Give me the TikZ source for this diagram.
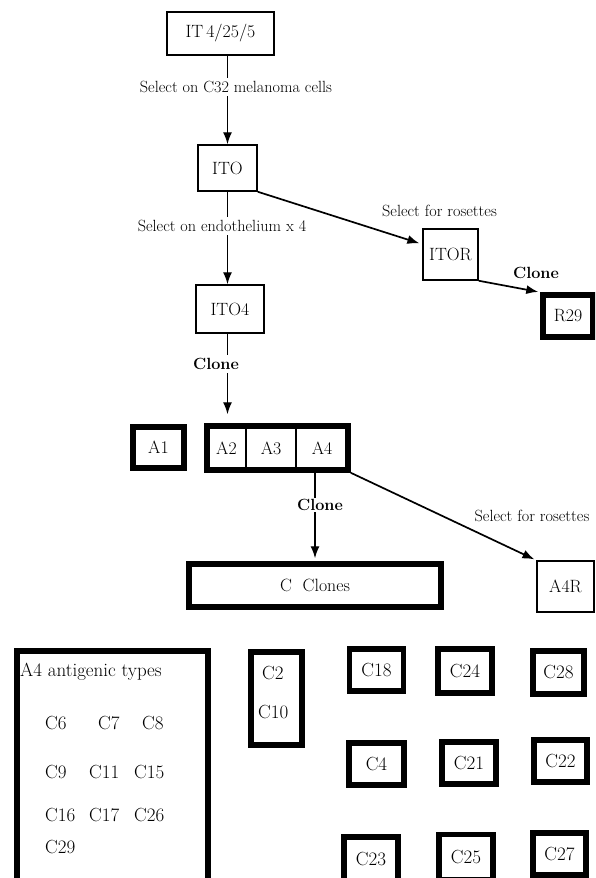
\documentclass[tikz,border=0pt]{standalone}
\usepackage{fontspec}
\usetikzlibrary{arrows.meta}
\newcommand{\lblsize}{\fontsize{16.2}{19}\selectfont}
\newcommand{\boxsize}{\fontsize{17.8}{21}\selectfont}
\newcommand{\csize}{\fontsize{19}{22}\selectfont}
\tikzset{
  thinbox/.style={draw, line width=1.5pt, inner sep=0pt, font=\boxsize},
  thickbox/.style={draw, line width=5.5pt, inner sep=0pt, font=\boxsize},
  cbox/.style={thickbox, minimum width=54pt, minimum height=43pt, font=\csize},
  lbl/.style={fill=white, inner sep=3pt, font=\lblsize},
  arr/.style={-{Latex[length=12pt,width=9pt]}, line width=1.4pt},
  ctype/.style={anchor=west, inner sep=0pt, font=\csize},
}
\begin{document}
\begin{tikzpicture}[x=1pt, y=-1pt]
    \useasboundingbox (0,0) rectangle (595,878);
    \clip (0,0) rectangle (595,878);

    % Parent line and first selections
    \node[thinbox, minimum width=107pt, minimum height=43pt] (IT) at (220.5,33.5) {IT\,4/25/5};
    \node[thinbox, minimum width=59pt, minimum height=46pt] (ITO) at (227.5,168) {ITO};
    \node[thinbox, minimum width=68pt, minimum height=48pt] (ITO4) at (230,309) {ITO4};
    \node[thinbox, minimum width=55pt, minimum height=51pt] (ITOR) at (450.5,254.5) {ITOR};
    \node[thickbox, minimum width=50pt, minimum height=42pt] (R29) at (568,316) {R29};

    % A clones
    \node[thickbox, minimum width=51pt, minimum height=41pt] (A1) at (158.5,447.5) {A1};
    \node[thinbox, minimum width=39pt, minimum height=42pt] (A2) at (226.5,448) {A2};
    \node[thinbox, minimum width=50pt, minimum height=42pt] (A3) at (271,448) {A3};
    \node[thinbox, minimum width=52pt, minimum height=42pt] (A4) at (322,448) {A4};
    \node[thickbox, minimum width=141pt, minimum height=44pt] (grp) at (277.5,448) {}; % A2-A4 frame
    \node[thickbox, minimum width=252pt, minimum height=43pt] (CC) at (315,585.5) {C\ \ Clones};
    \node[thinbox, minimum width=57pt, minimum height=51pt] (A4R) at (565.5,586.5) {A4R};

    % connectors
    \draw[arr] (ITO.north |- IT.south) -- (ITO.north);
    \draw[arr] (ITO.south) -- (ITO.south |- ITO4.north);
    \draw[arr, shorten >=9pt] (ITO.south |- ITO4.south) -- (ITO.south |- grp.north);
    \draw[arr, line width=1.7pt, shorten >=3pt] (ITO.south east) -- (ITOR.160);
    \draw[arr, line width=1.7pt, shorten >=2pt] (ITOR.south east) -- (R29.north west);
    \draw[arr, shorten >=3pt] (grp.south -| CC.north) -- (CC.north);
    \draw[arr, line width=1.7pt, shorten >=2pt] (grp.south east) -- (A4R.north west);

    % labels
    \node[lbl] (selC32) at (236,87) {Select on C32 melanoma cells};
    \node[lbl] (selEnd) at (222,226) {Select on endothelium x 4};
    \node[lbl] (selRos) at (439.5,211) {Select for rosettes};
    \node[lbl, font=\lblsize\bfseries] (clR) at (536,273) {Clone};
    \node[lbl, font=\lblsize\bfseries] (clA) at (216,364) {Clone};
    \node[lbl, font=\lblsize\bfseries, inner sep=1pt] (clC) at (320,505) {Clone};
    \node[lbl] (selRos2) at (532,516) {Select for rosettes};

    % A4 antigenic types
    \draw[line width=5.5pt] (17,900) |- (208,651) -- (208,900);
    \node[ctype] (hdr) at (20,672) {A4 antigenic types};
    \node[ctype] (t6) at (45,723) {C6};
    \node[ctype] (t7) at (98,723) {C7};
    \node[ctype] (t8) at (142,723) {C8};
    \node[ctype] (t9) at (45,772) {C9};
    \node[ctype] (t11) at (89,772) {C11};
    \node[ctype] (t15) at (134,772) {C15};
    \node[ctype] (t16) at (45,815) {C16};
    \node[ctype] (t17) at (89,815) {C17};
    \node[ctype] (t26) at (134,815) {C26};
    \node[ctype] (t29) at (45,847) {C29};

    % other C clones
    \node[thickbox, minimum width=51pt, minimum height=93pt] (C2box) at (276.5,698.5) {};
    \node[ctype] (C2) at (262,673) {C2};
    \node[ctype] (C10) at (258,712) {C10};
    \node[cbox, minimum height=42pt] (C18) at (376.5,670) {C18};
    \node[cbox, minimum height=44pt] (C24) at (465,671) {C24};
    \node[cbox, minimum width=51pt] (C28) at (558.5,672.5) {C28};
    \node[cbox, minimum width=55pt, minimum height=42pt] (C4) at (376.5,764) {C4};
    \node[cbox, minimum height=42pt] (C21) at (469,763) {C21};
    \node[cbox, minimum width=53pt, minimum height=42pt] (C22) at (560.5,761) {C22};
    \node[cbox, minimum height=45pt] (C23) at (371,859.5) {C23};
    \node[cbox, minimum height=45pt] (C25) at (466,857) {C25};
    \node[cbox, minimum width=53pt, minimum height=42pt] (C27) at (559.5,854) {C27};
\end{tikzpicture}
\end{document}
